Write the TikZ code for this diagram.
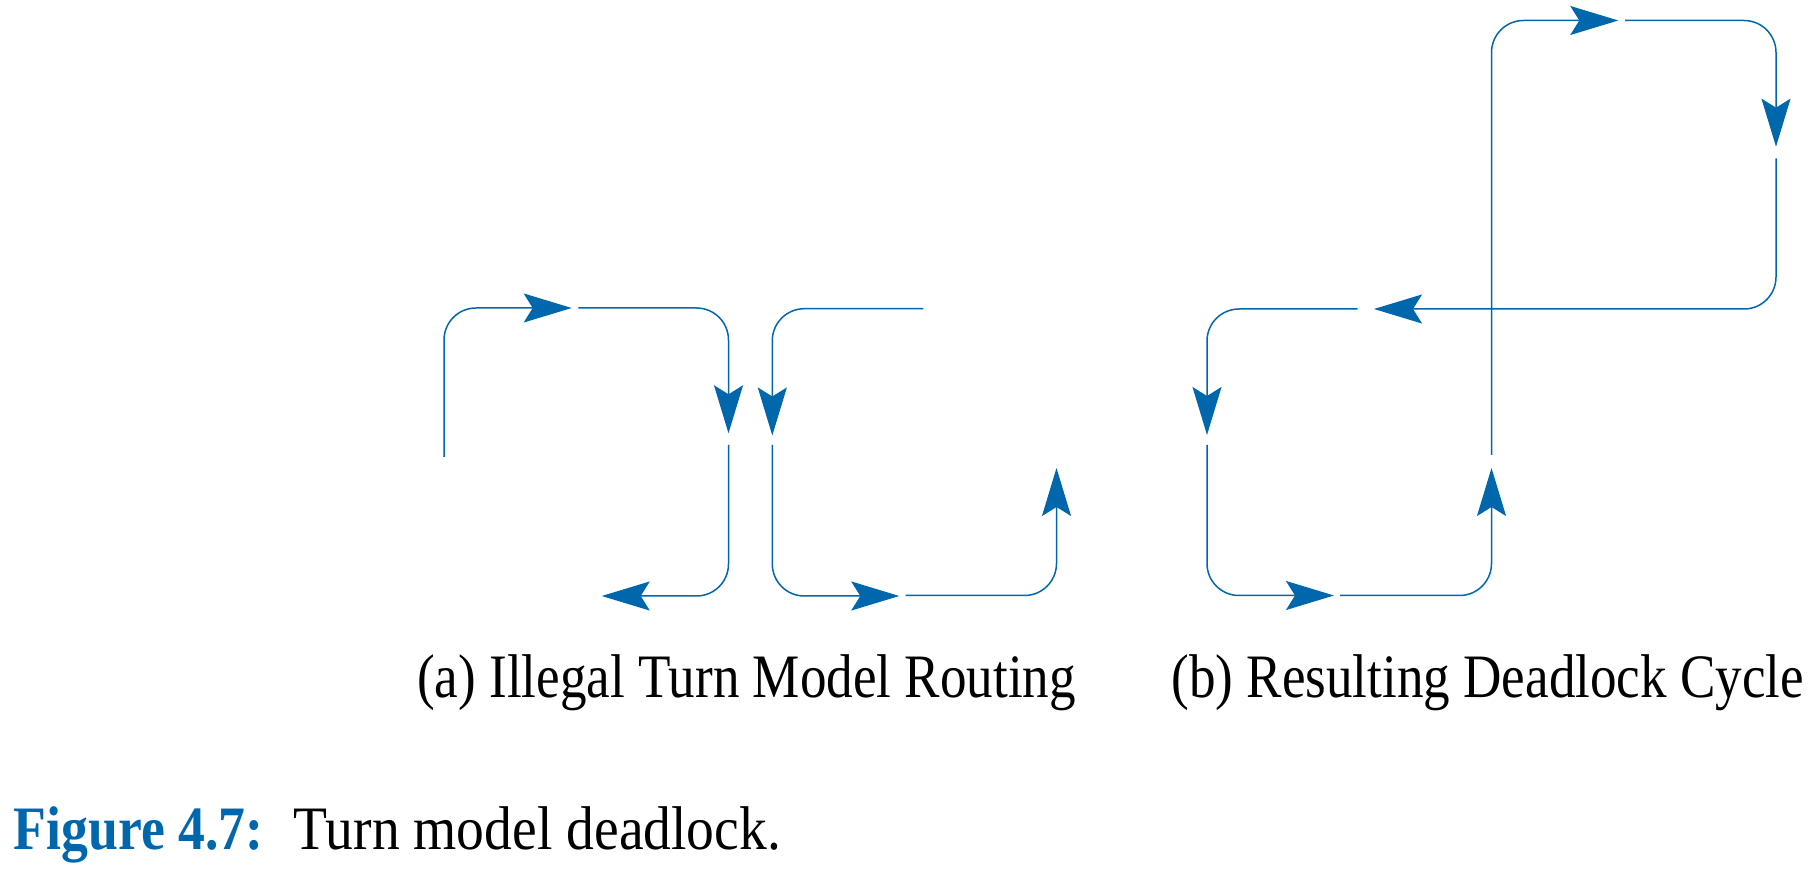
\documentclass[tikz,border=0pt]{standalone}
\usepackage{fontspec}
\setmainfont[FakeStretch=0.86]{Liberation Serif}
\newfontfamily\figfont[FakeStretch=0.9]{Liberation Serif}
\newfontfamily\figbold[FakeStretch=0.87]{Liberation Serif}
\usetikzlibrary{arrows.meta}
\definecolor{tblue}{RGB}{0,103,172}
\tikzset{
  route/.style={draw=tblue, line width=0.6pt, rounded corners=12.8pt,
    -{Stealth[length=19.2pt, width=11.6pt, inset=3.6pt, fill=tblue, color=tblue]}},
  captext/.style={inner sep=0pt, anchor=base west, font=\fontsize{24.7pt}{30pt}\selectfont}
}
\begin{document}
\begin{tikzpicture}[x=0.4pt, y=-0.4pt]
\useasboundingbox (0,0) rectangle (1815,872);
% (a) left route
\coordinate (a1s) at (444,457);    \coordinate (a1e) at (571.7,308);
\coordinate (a2s) at (578.3,308);  \coordinate (a2e) at (728.5,433.3);
\coordinate (a3s) at (728.5,445);  \coordinate (a3e) at (601.7,596);
% (a) right route
\coordinate (b1s) at (923.3,308.7); \coordinate (b1e) at (772.3,435.5);
\coordinate (b2s) at (772.3,445);   \coordinate (b2e) at (899.3,596);
\coordinate (b3s) at (905.7,595.5); \coordinate (b3e) at (1056.5,468);
% (b) cycle
\coordinate (c1s) at (1491.5,455);  \coordinate (c1e) at (1618.3,20.5);
\coordinate (c2s) at (1625,20.5);   \coordinate (c2e) at (1776,146.7);
\coordinate (c3s) at (1776,158.3);  \coordinate (c3e) at (1374,309);
\coordinate (c4s) at (1357.7,309);  \coordinate (c4e) at (1207,435);
\coordinate (c5s) at (1207,445);    \coordinate (c5e) at (1334,595.5);
\coordinate (c6s) at (1340,595.5);  \coordinate (c6e) at (1491.5,468);

\draw[route] (a1s) |- (a1e);
\draw[route] (a2s) -| (a2e);
\draw[route] (a3s) |- (a3e);
\draw[route] (b1s) -| (b1e);
\draw[route] (b2s) |- (b2e);
\draw[route] (b3s) -| (b3e);
\draw[route] (c1s) |- (c1e);
\draw[route] (c2s) -| (c2e);
\draw[route] (c3s) |- (c3e);
\draw[route] (c4s) -| (c4e);
\draw[route] (c5s) |- (c5e);
\draw[route] (c6s) -| (c6e);

\node[captext] (capa) at (416.7,697.3) {(a) Illegal Turn Model Routing};
\node[captext] (capb) at (1171,697.3) {(b) Resulting Deadlock Cycle};
\node[captext, text=tblue, font=\fontsize{24.7pt}{30pt}\selectfont\figbold\bfseries] (fig) at (13.3,849.3) {Figure 4.7:};
\node[captext, font=\fontsize{24.7pt}{30pt}\selectfont\figfont] (figtxt) at (293.3,849.3) {Turn model deadlock.};
\end{tikzpicture}
\end{document}
